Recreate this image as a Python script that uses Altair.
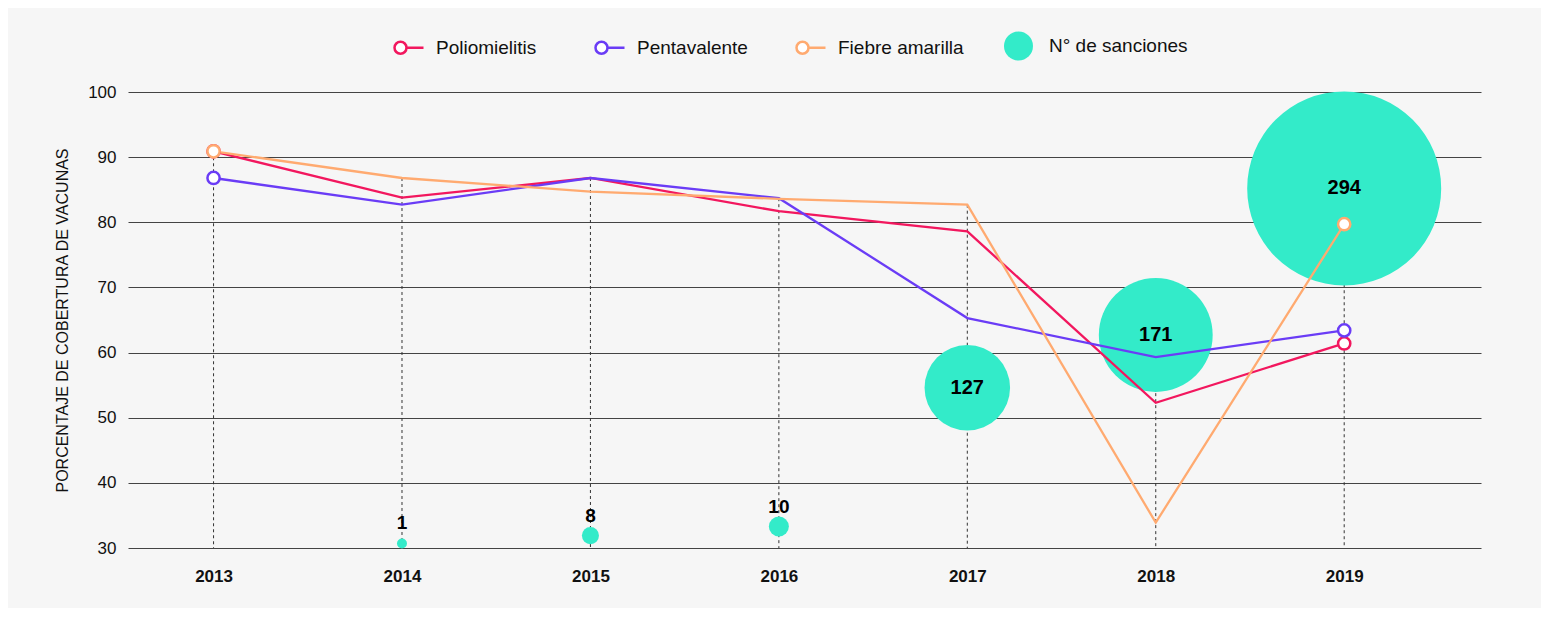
import altair as alt
import pandas as pd

# ---------------- data ----------------
anios = [2013, 2014, 2015, 2016, 2017, 2018, 2019]
polio = [90.9, 83.8, 86.8, 81.7, 78.6, 52.3, 61.4]
penta = [86.8, 82.7, 86.8, 83.7, 65.3, 59.3, 63.4]
fiebre = [90.9, 86.8, 84.7, 83.6, 82.7, 33.9, 79.7]
series = ["Poliomielitis", "Pentavalente", "Fiebre amarilla"]
colores = ["#f2175e", "#6a3cf6", "#ffaa70"]

sanciones_anios = [2014, 2015, 2016, 2017, 2018, 2019]
sanciones = [1, 8, 10, 127, 171, 294]
sanciones_y = [30.7, 31.9, 33.3, 54.6, 62.7, 85.2]
sanciones_nombre = "N° de sanciones"

y_ticks = [30, 40, 50, 60, 70, 80, 90, 100]

FONT = "Liberation Sans"
TEAL = "#33ebc9"
BG = "#f6f6f6"

# ---------------- tables ----------------
rows = []
for nombre, vals in zip(series, [polio, penta, fiebre]):
    for a, v in zip(anios, vals):
        rows.append({"anio": a, "serie": nombre, "valor": v})
df_lines = pd.DataFrame(rows)

df_rules = pd.DataFrame({
    "anio": anios,
    "ymax": [max(a, b, c) for a, b, c in zip(polio, penta, fiebre)],
})

df_bub = pd.DataFrame({
    "anio": sanciones_anios,
    "sanciones": sanciones,
    "ypos": sanciones_y,
    "leyenda": [sanciones_nombre] * len(sanciones),
})

x_enc = alt.X(
    "anio:Q",
    scale=alt.Scale(domain=[2012.546, 2019.726], nice=False, zero=False),
    axis=alt.Axis(
        values=anios, format="d", title=None, grid=False, domain=False, ticks=False,
        labelFontSize=17, labelFontWeight="bold", labelColor="#111111",
        labelPadding=20, labelFont=FONT,
    ),
)
y_scale = alt.Scale(domain=[30, 100], nice=False, zero=False)
y_axis = alt.Axis(
    values=y_ticks, grid=True, gridColor="#444444", gridWidth=1,
    domain=False, ticks=False, labelFontSize=17, labelColor="#111111",
    labelPadding=12, labelFont=FONT,
    title="PORCENTAJE DE COBERTURA DE VACUNAS", titleFontSize=16,
    titleFontWeight="normal", titleColor="#111111", titlePadding=17, titleFont=FONT,
)

stroke_scale = alt.Scale(domain=series, range=colores)
legend_path = ("M -0.933 0 A 0.4 0.4 0 1 1 -0.133 0 A 0.4 0.4 0 1 1 -0.933 0 Z "
               "M -0.133 0 L 1 0")
stroke_legend = alt.Legend(
    title=None, orient="none", legendX=264, legendY=-61, direction="horizontal",
    symbolType=legend_path, symbolSize=900, symbolStrokeWidth=2.5,
    symbolFillColor="#ffffff", labelFontSize=19, labelFont=FONT,
    labelColor="#111111", labelOffset=11, columnPadding=28, gridAlign="all",
    padding=0, labelLimit=400,
)
fill_legend = alt.Legend(
    title=None, orient="none", legendX=876, legendY=-60.5, direction="horizontal",
    symbolType="circle", symbolSize=841, symbolStrokeWidth=0,
    labelFontSize=19, labelFont=FONT, labelColor="#111111", labelOffset=16,
    padding=0, labelLimit=400,
)

rules = alt.Chart(df_rules).mark_rule(
    strokeDash=[3, 3], color="#333333", strokeWidth=1
).encode(
    x=x_enc,
    y=alt.Y("ymax:Q", scale=y_scale, axis=y_axis),
    y2=alt.datum(30),
)

bubbles = alt.Chart(df_bub).mark_circle(opacity=1).encode(
    x=x_enc,
    y=alt.Y("ypos:Q", scale=y_scale, axis=y_axis),
    size=alt.Size(
        "sanciones:Q",
        scale=alt.Scale(type="pow", exponent=2, domain=[0, 1, 10, 294],
                        range=[0, 100, 400, 37636]),
        legend=None,
    ),
    fill=alt.Fill("leyenda:N", scale=alt.Scale(domain=[sanciones_nombre], range=[TEAL]),
                  legend=fill_legend),
)

lines = alt.Chart(df_lines).mark_line(strokeWidth=2.3).encode(
    x=x_enc,
    y=alt.Y("valor:Q", scale=y_scale, axis=y_axis),
    stroke=alt.Stroke("serie:N", scale=stroke_scale, legend=stroke_legend),
)

points = alt.Chart(df_lines).transform_filter(
    alt.FieldOneOfPredicate(field="anio", oneOf=[anios[0], anios[-1]])
).mark_point(fill="#ffffff", filled=False, opacity=1, strokeWidth=2.5, size=150).encode(
    x=x_enc,
    y=alt.Y("valor:Q", scale=y_scale, axis=y_axis),
    stroke=alt.Stroke("serie:N", scale=stroke_scale, legend=stroke_legend),
)

text_big = alt.Chart(df_bub).transform_filter(
    alt.datum.sanciones >= 100
).mark_text(fontSize=20, fontWeight="bold", font=FONT, color="#000000",
            baseline="middle").encode(
    x=x_enc,
    y=alt.Y("ypos:Q", scale=y_scale, axis=y_axis),
    text="sanciones:Q",
)

text_small = alt.Chart(df_bub).transform_filter(
    alt.datum.sanciones < 100
).mark_text(fontSize=19, fontWeight="bold", font=FONT, color="#000000",
            baseline="middle", dy=-20).encode(
    x=x_enc,
    y=alt.Y("ypos:Q", scale=y_scale, axis=y_axis),
    text="sanciones:Q",
)

chart = alt.layer(rules, bubbles, lines, points, text_big, text_small).properties(
    width=1353, height=456,
    autosize=alt.AutoSizeParams(type="none"),
    padding={"left": 120, "top": 84, "right": 60, "bottom": 60},
    background=BG,
).configure_view(stroke=None)

chart.save("out.html", embed_options={"renderer": "svg", "actions": False})
